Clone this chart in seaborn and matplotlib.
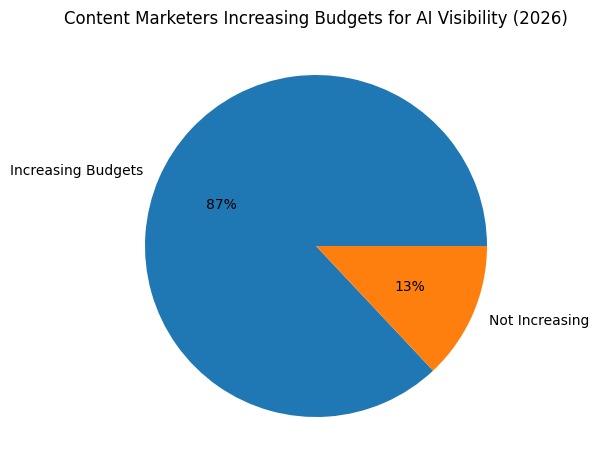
import matplotlib
matplotlib.use("Agg")
import matplotlib.pyplot as plt
import seaborn as sns

# data
labels = ['Increasing Budgets', 'Not Increasing']
shares = [87, 13]

colors = sns.color_palette("tab10", 2)

fig = plt.figure(figsize=(5.99, 4.70), dpi=100)
ax = fig.add_axes([0.1707, 0.0218, 0.7137, 0.9096])
ax.pie(shares, labels=labels, colors=colors, autopct='%1.0f%%')
ax.set_title('Content Marketers Increasing Budgets for AI Visibility (2026)')

plt.savefig('out.png', dpi=100)
